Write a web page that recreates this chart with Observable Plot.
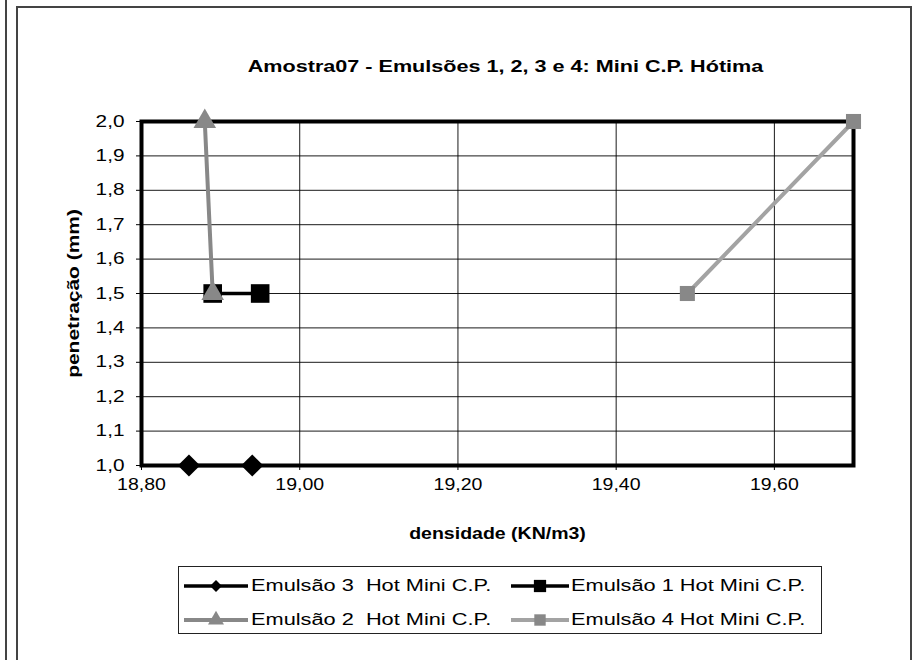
<!DOCTYPE html>
<html><head><meta charset="utf-8">
<script src="https://cdn.jsdelivr.net/npm/d3@7"></script>
<script src="https://cdn.jsdelivr.net/npm/@observablehq/plot@0.6"></script>
<style>
body{margin:0;background:#fff;font-family:"Liberation Sans",Arial,sans-serif;}
#wrap{position:relative;width:914px;height:660px;overflow:hidden;background:#fff;}
#chart{position:absolute;left:0;top:0;}
.vline{position:absolute;left:5px;top:0;width:2px;height:660px;background:#444;}
.outer{position:absolute;left:16px;top:6px;width:896px;height:700px;border:2px solid #444;border-bottom:none;box-sizing:border-box;pointer-events:none;}
#legend{position:absolute;left:178px;top:566px;width:644px;height:68px;border:1px solid #222;box-sizing:border-box;background:#fff;font-size:16px;color:#000;}
.sample{position:absolute;}
.lt{position:absolute;white-space:pre;transform-origin:0 50%;line-height:18px;}
g[aria-label="x-axis label"] text, g[aria-label="y-axis label"] text{font-weight:bold;}
</style></head><body>
<div id="wrap"><div id="chart"></div><div class="vline"></div><div class="outer"></div><div id="legend"></div></div>
<script>
const title = "Amostra07 - Emulsões 1, 2, 3 e 4: Mini C.P. Hótima";
const xLabel = "densidade (KN/m3)";
const yLabel = "penetração (mm)";
const seriesNames = ["Emulsão 3  Hot Mini C.P.", "Emulsão 1 Hot Mini C.P.", "Emulsão 2  Hot Mini C.P.", "Emulsão 4 Hot Mini C.P."];
const e3x = [18.86, 18.94], e3y = [1.0, 1.0];
const e1x = [18.89, 18.95], e1y = [1.5, 1.5];
const e2x = [18.88, 18.89], e2y = [2.0, 1.5];
const e4x = [19.49, 19.70], e4y = [1.5, 2.0];
const xTicks = [18.8, 19.0, 19.2, 19.4, 19.6];
const yTicks = [1.0, 1.1, 1.2, 1.3, 1.4, 1.5, 1.6, 1.7, 1.8, 1.9, 2.0];

const pts = (xs, ys) => xs.map((x, i) => ({x, y: ys[i]}));
const e3 = pts(e3x, e3y), e1 = pts(e1x, e1y), e2 = pts(e2x, e2y), e4 = pts(e4x, e4y);
const comma = d => d.toFixed(2).replace(".", ",");
const comma1 = d => d.toFixed(1).replace(".", ",");

const styles = [
  {line: "#000", lw: 3.5, sym: "diamond2", r: 10, fill: "#000"},
  {line: "#000", lw: 3.5, sym: "square", r: 10.5, fill: "#000"},
  {line: "#888", lw: 4, sym: "triangle", r: 8.4, fill: "#888"},
  {line: "#a3a3a3", lw: 4, sym: "square", r: 8.5, fill: "#888"}
];
const data = [e3, e1, e2, e4];

const marks = [
  Plot.gridY(yTicks, {stroke: "#000", strokeOpacity: 0.9, strokeWidth: 1}),
  Plot.gridX(xTicks, {stroke: "#000", strokeOpacity: 0.9, strokeWidth: 1}),
  Plot.frame({stroke: "#000", strokeWidth: 4}),
  Plot.axisX(xTicks, {tickFormat: comma, tickSize: 5, tickPadding: 8, fontSize: 16, label: xLabel, labelAnchor: "center", labelOffset: 73, labelArrow: "none"}),
  Plot.axisY(yTicks, {tickFormat: comma1, tickSize: 5, tickPadding: 12, fontSize: 16, label: yLabel, labelAnchor: "center", labelOffset: 74, labelArrow: "none"}),
  Plot.text([title], {frameAnchor: "top", dy: -61, dx: 8, fontWeight: "bold", fontSize: 16})
];
data.forEach((d, i) => {
  const s = styles[i];
  marks.push(Plot.line(d, {x: "x", y: "y", stroke: s.line, strokeWidth: s.lw}));
  marks.push(Plot.dot(d, {x: "x", y: "y", symbol: s.sym, r: s.r, fill: s.fill, stroke: "none"}));
});

const chart = Plot.plot({
  width: 914, height: 660,
  marginLeft: 141, marginRight: 61, marginTop: 121, marginBottom: 195,
  x: {domain: [18.8, 19.7]},
  y: {domain: [1.0, 2.0]},
  clip: false,
  style: {fontSize: "15px", fontFamily: "'Liberation Sans', Arial, sans-serif", color: "#000", background: "transparent", overflow: "visible"},
  marks
});
document.getElementById("chart").appendChild(chart);

// Stretch text along its baseline to match the wide rendering of the original
const stretch = (sel, sx) => d3.select(chart).selectAll(sel).each(function() {
  const t = this.getAttribute("transform") || "";
  this.setAttribute("transform", t + ` scale(${sx},1)`);
});
stretch('g[aria-label="x-axis tick label"] text', 1.22);
stretch('g[aria-label="y-axis tick label"] text', 1.3);
stretch('g[aria-label="x-axis label"] text', 1.22);
stretch('g[aria-label="y-axis label"] text', 1.31);
stretch('g[aria-label="text"] text', 1.35);

// legend
const leg = d3.select("#legend");
const rows = [19, 53];
const cols = [[5, 64, 72], [332, 58, 392]];
const symMap = {diamond2: d3.symbolDiamond2, square: d3.symbolSquare, triangle: d3.symbolTriangle};
const legSize = [90, 150, 110, 130];
seriesNames.forEach((name, i) => {
  const s = styles[i];
  const c = cols[i % 2], r = rows[Math.floor(i / 2)];
  const svg = leg.append("svg").attr("class", "sample").attr("width", c[1]).attr("height", 20)
    .style("left", c[0] + "px").style("top", (r - 10) + "px");
  svg.append("line").attr("x1", 0).attr("x2", c[1]).attr("y1", 10).attr("y2", 10).attr("stroke", s.line).attr("stroke-width", s.lw);
  svg.append("path").attr("d", d3.symbol(symMap[s.sym], legSize[i])()).attr("transform", `translate(${c[1] / 2},10)`).attr("fill", s.fill);
  leg.append("div").attr("class", "lt").style("left", c[2] + "px").style("top", (r - 9) + "px")
    .style("transform", "scaleX(1.36)").text(name);
});
</script>
</body></html>
